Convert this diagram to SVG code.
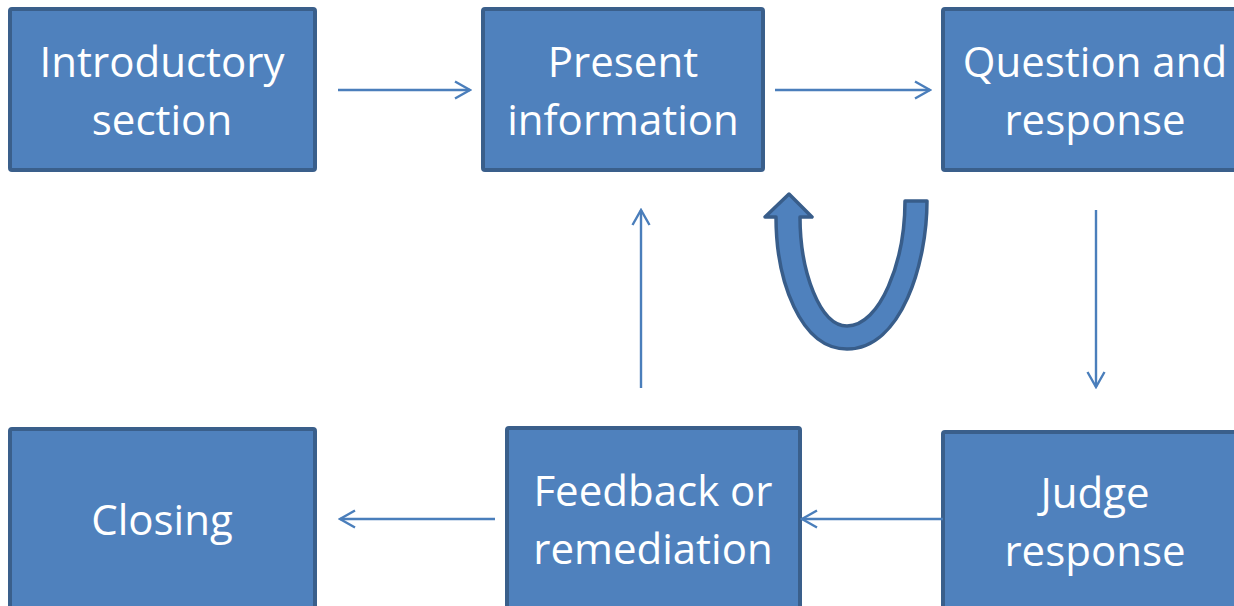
<svg xmlns="http://www.w3.org/2000/svg" width="1234" height="606" viewBox="0 0 1234 606">
  <style>
    .box { fill: #4F81BD; stroke: #3A5F8B; stroke-width: 4; }
    .lbl { fill: #FFFFFF; font-family: "Open Sans", "Liberation Sans", sans-serif; font-size: 42px; text-anchor: middle; }
    .conn { stroke: #4A7EBB; stroke-width: 2.4; fill: none; marker-end: url(#head); }
  </style>
  <defs>
    <marker id="head" viewBox="0 0 20 20" refX="18" refY="10" markerWidth="20" markerHeight="20" markerUnits="userSpaceOnUse" orient="auto">
      <path d="M3,1.5 L18,10 L3,18.5" fill="none" stroke="#4A7EBB" stroke-width="2.4"/>
    </marker>
  </defs>

  <g id="node-intro">
    <rect class="box" x="10" y="9" width="305" height="161" rx="2"/>
    <text class="lbl" x="162" y="77">Introductory</text>
    <text class="lbl" x="162" y="135">section</text>
  </g>
  <g id="node-present">
    <rect class="box" x="483" y="9" width="280" height="161" rx="2"/>
    <text class="lbl" x="623" y="77">Present</text>
    <text class="lbl" x="623" y="135">information</text>
  </g>
  <g id="node-question">
    <rect class="box" x="943" y="9" width="300" height="161" rx="2"/>
    <text class="lbl" x="1095" y="77">Question and</text>
    <text class="lbl" x="1095" y="135">response</text>
  </g>
  <g id="node-closing">
    <rect class="box" x="10" y="429" width="305" height="190" rx="2"/>
    <text class="lbl" x="162" y="535">Closing</text>
  </g>
  <g id="node-feedback">
    <rect class="box" x="507" y="428" width="293" height="190" rx="2"/>
    <text class="lbl" x="653" y="506">Feedback or</text>
    <text class="lbl" x="653" y="564">remediation</text>
  </g>
  <g id="node-judge">
    <rect class="box" x="943" y="432" width="300" height="190" rx="2"/>
    <text class="lbl" x="1095" y="508">Judge</text>
    <text class="lbl" x="1095" y="566">response</text>
  </g>

  <g id="connectors">
    <line class="conn" x1="338" y1="90" x2="470" y2="90"/>
    <line class="conn" x1="775" y1="90" x2="930" y2="90"/>
    <line class="conn" x1="1096" y1="210" x2="1096" y2="387"/>
    <line class="conn" x1="943" y1="519" x2="802" y2="519"/>
    <line class="conn" x1="495" y1="519" x2="340" y2="519"/>
    <line class="conn" x1="641" y1="388" x2="641" y2="210"/>
    <!-- repeat loop: U-turn block arrow -->
    <path id="loop-arrow" d="M905,201 L927,201 C927,262 902,349 847,349 C800,349 776,280 776,217 L765,217 L789,194 L812,217 L800,217 C800,272 820,326 847,326 C880,326 905,262 905,201 Z" fill="#4F81BD" stroke="#385D8A" stroke-width="3.5" stroke-linejoin="round"/>
  </g>
</svg>
